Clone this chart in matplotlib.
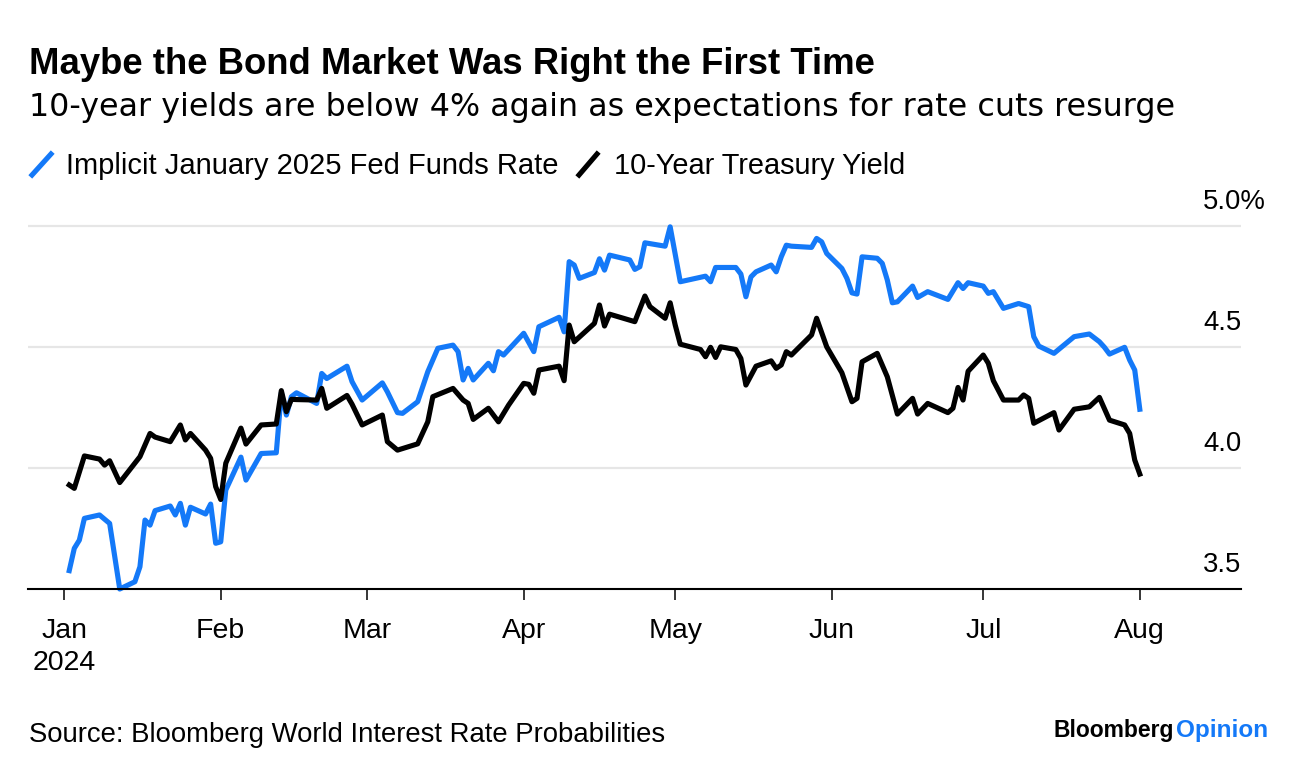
import matplotlib
matplotlib.use("Agg")
import matplotlib.pyplot as plt
import matplotlib.transforms as mtransforms
from matplotlib.lines import Line2D
import pandas as pd

plt.rcParams['font.family'] = ['Liberation Sans', 'DejaVu Sans']

BLUE = '#1479f8'
GRID = '#e6e6e6'

# Implicit January 2025 Fed Funds Rate (%)
fed_dates = [
    "2024-01-02", "2024-01-03", "2024-01-04", "2024-01-05", "2024-01-08", "2024-01-10",
    "2024-01-12", "2024-01-15", "2024-01-16", "2024-01-17", "2024-01-18", "2024-01-19",
    "2024-01-22", "2024-01-23", "2024-01-24", "2024-01-25", "2024-01-26", "2024-01-29",
    "2024-01-30", "2024-01-31", "2024-02-01", "2024-02-02", "2024-02-05", "2024-02-06",
    "2024-02-09", "2024-02-12", "2024-02-13", "2024-02-14", "2024-02-15", "2024-02-16",
    "2024-02-20", "2024-02-21", "2024-02-22", "2024-02-26", "2024-02-27", "2024-02-29",
    "2024-03-04", "2024-03-05", "2024-03-07", "2024-03-08", "2024-03-11", "2024-03-13",
    "2024-03-15", "2024-03-18", "2024-03-19", "2024-03-20", "2024-03-21", "2024-03-22",
    "2024-03-25", "2024-03-26", "2024-03-27", "2024-03-28", "2024-04-01", "2024-04-03",
    "2024-04-04", "2024-04-08", "2024-04-09", "2024-04-10", "2024-04-11", "2024-04-12",
    "2024-04-15", "2024-04-16", "2024-04-17", "2024-04-18", "2024-04-22", "2024-04-23",
    "2024-04-24", "2024-04-25", "2024-04-29", "2024-04-30", "2024-05-02", "2024-05-07",
    "2024-05-08", "2024-05-09", "2024-05-13", "2024-05-14", "2024-05-15", "2024-05-16",
    "2024-05-17", "2024-05-20", "2024-05-21", "2024-05-22", "2024-05-23", "2024-05-24",
    "2024-05-28", "2024-05-29", "2024-05-30", "2024-05-31", "2024-06-03", "2024-06-04",
    "2024-06-05", "2024-06-06", "2024-06-07", "2024-06-10", "2024-06-11", "2024-06-12",
    "2024-06-13", "2024-06-14", "2024-06-17", "2024-06-18", "2024-06-20", "2024-06-24",
    "2024-06-26", "2024-06-27", "2024-06-28", "2024-07-01", "2024-07-02", "2024-07-03",
    "2024-07-05", "2024-07-08", "2024-07-10", "2024-07-11", "2024-07-12", "2024-07-15",
    "2024-07-19", "2024-07-22", "2024-07-24", "2024-07-25", "2024-07-26", "2024-07-29",
    "2024-07-30", "2024-07-31", "2024-08-01",
]
fed_values = [
    3.576, 3.668, 3.702, 3.792, 3.806, 3.771,
    3.500, 3.530, 3.592, 3.785, 3.764, 3.824,
    3.843, 3.806, 3.854, 3.764, 3.838, 3.810,
    3.851, 3.689, 3.695, 3.909, 4.045, 3.950,
    4.060, 4.063, 4.311, 4.219, 4.295, 4.311,
    4.267, 4.391, 4.370, 4.421, 4.357, 4.281,
    4.352, 4.315, 4.229, 4.226, 4.274, 4.398,
    4.495, 4.508, 4.481, 4.364, 4.412, 4.364,
    4.433, 4.402, 4.481, 4.467, 4.557, 4.481,
    4.584, 4.623, 4.563, 4.853, 4.839, 4.784,
    4.808, 4.865, 4.818, 4.880, 4.860, 4.821,
    4.832, 4.931, 4.917, 4.997, 4.770, 4.793,
    4.770, 4.829, 4.829, 4.802, 4.708, 4.790,
    4.811, 4.839, 4.811, 4.873, 4.921, 4.917,
    4.912, 4.949, 4.935, 4.887, 4.825, 4.784,
    4.724, 4.719, 4.873, 4.867, 4.846, 4.777,
    4.683, 4.687, 4.752, 4.705, 4.729, 4.697,
    4.766, 4.742, 4.766, 4.752, 4.722, 4.729,
    4.660, 4.680, 4.667, 4.543, 4.504, 4.474,
    4.543, 4.554, 4.522, 4.499, 4.471, 4.499,
    4.446, 4.405, 4.243,
]

# 10-Year Treasury Yield (%)
tsy_dates = [
    "2024-01-02", "2024-01-03", "2024-01-05", "2024-01-08", "2024-01-09", "2024-01-10",
    "2024-01-12", "2024-01-16", "2024-01-18", "2024-01-19", "2024-01-22", "2024-01-24",
    "2024-01-25", "2024-01-26", "2024-01-29", "2024-01-30", "2024-01-31", "2024-02-01",
    "2024-02-02", "2024-02-05", "2024-02-06", "2024-02-09", "2024-02-12", "2024-02-13",
    "2024-02-14", "2024-02-15", "2024-02-16", "2024-02-20", "2024-02-21", "2024-02-22",
    "2024-02-26", "2024-02-27", "2024-02-29", "2024-03-04", "2024-03-05", "2024-03-07",
    "2024-03-11", "2024-03-13", "2024-03-14", "2024-03-18", "2024-03-20", "2024-03-21",
    "2024-03-22", "2024-03-25", "2024-03-27", "2024-03-29", "2024-04-01", "2024-04-02",
    "2024-04-03", "2024-04-04", "2024-04-08", "2024-04-09", "2024-04-10", "2024-04-11",
    "2024-04-15", "2024-04-16", "2024-04-17", "2024-04-18", "2024-04-23", "2024-04-25",
    "2024-04-26", "2024-04-29", "2024-04-30", "2024-05-01", "2024-05-02", "2024-05-06",
    "2024-05-07", "2024-05-08", "2024-05-09", "2024-05-10", "2024-05-13", "2024-05-14",
    "2024-05-15", "2024-05-17", "2024-05-20", "2024-05-21", "2024-05-22", "2024-05-23",
    "2024-05-24", "2024-05-28", "2024-05-29", "2024-05-31", "2024-06-03", "2024-06-05",
    "2024-06-06", "2024-06-07", "2024-06-10", "2024-06-12", "2024-06-14", "2024-06-17",
    "2024-06-18", "2024-06-20", "2024-06-24", "2024-06-25", "2024-06-26", "2024-06-27",
    "2024-06-28", "2024-07-01", "2024-07-02", "2024-07-03", "2024-07-05", "2024-07-08",
    "2024-07-09", "2024-07-10", "2024-07-11", "2024-07-15", "2024-07-16", "2024-07-19",
    "2024-07-22", "2024-07-24", "2024-07-26", "2024-07-29", "2024-07-30", "2024-07-31",
    "2024-08-01",
]
tsy_values = [
    3.930, 3.916, 4.050, 4.037, 4.012, 4.030,
    3.940, 4.047, 4.143, 4.128, 4.109, 4.178,
    4.116, 4.143, 4.074, 4.040, 3.923, 3.870,
    4.020, 4.165, 4.099, 4.178, 4.182, 4.320,
    4.233, 4.284, 4.283, 4.281, 4.329, 4.247,
    4.300, 4.264, 4.178, 4.219, 4.109, 4.074,
    4.100, 4.191, 4.295, 4.329, 4.281, 4.267,
    4.201, 4.247, 4.191, 4.260, 4.350, 4.346,
    4.309, 4.405, 4.421, 4.361, 4.591, 4.522,
    4.598, 4.674, 4.587, 4.636, 4.605, 4.711,
    4.667, 4.619, 4.683, 4.591, 4.512, 4.490,
    4.460, 4.499, 4.457, 4.501, 4.490, 4.453,
    4.343, 4.421, 4.443, 4.412, 4.426, 4.481,
    4.467, 4.550, 4.619, 4.501, 4.394, 4.274,
    4.288, 4.439, 4.474, 4.377, 4.223, 4.288,
    4.223, 4.267, 4.229, 4.247, 4.333, 4.281,
    4.400, 4.467, 4.433, 4.361, 4.281, 4.281,
    4.302, 4.288, 4.185, 4.229, 4.157, 4.243,
    4.253, 4.292, 4.198, 4.178, 4.143, 4.033,
    3.975,
]

month_ticks = ["2024-01-01", "2024-02-01", "2024-03-01", "2024-04-01",
               "2024-05-01", "2024-06-01", "2024-07-01", "2024-08-01"]
month_labels = ["Jan\n2024", "Feb", "Mar", "Apr", "May", "Jun", "Jul", "Aug"]
grid_levels = [4.0, 4.5, 5.0]
y_levels = [3.5, 4.0, 4.5, 5.0]
y_labels = ["3.5", "4.0", "4.5", "5.0%"]

W, H = 1296, 774


def fx(px):
    return px / W


def fy(py):
    return 1 - py / H


fig = plt.figure(figsize=(W / 100, H / 100), dpi=100)
ax = fig.add_axes([fx(28), fy(589), fx(1241) - fx(28), fy(214) - fy(589)])

ax.set_xlim(pd.Timestamp("2023-12-24 20:00"), pd.Timestamp("2024-08-21 01:00"))
ax.set_ylim(3.5, 5.05)

for lvl in grid_levels:
    ax.axhline(lvl, color=GRID, lw=1.6, zorder=0)

ax.plot(pd.to_datetime(fed_dates), fed_values, color=BLUE, lw=3.7,
        solid_joinstyle='round', clip_on=False, zorder=3)
ax.plot(pd.to_datetime(tsy_dates), tsy_values, color='black', lw=3.7,
        solid_joinstyle='round', clip_on=False, zorder=4)

for s in ['top', 'left', 'right']:
    ax.spines[s].set_visible(False)
ax.spines['bottom'].set_linewidth(1.5)
ax.spines['bottom'].set_zorder(5)

ax.set_yticks([])
ax.set_xticks(pd.to_datetime(month_ticks))
ax.set_xticklabels(month_labels, fontsize=20.5, linespacing=1.28)
ax.tick_params(axis='x', length=8, width=1.1, pad=13, color='black')

# right-hand value labels sitting above each gridline
trans = mtransforms.blended_transform_factory(ax.transAxes, ax.transData)
for lvl, lab in zip(y_levels, y_labels):
    ax.annotate(lab, xy=((1203 - 28) / (1241 - 28), lvl), xycoords=trans,
                xytext=(0, 12), textcoords='offset points',
                ha='left', va='baseline', fontsize=19.8, color='black',
                annotation_clip=False)

# title block
fig.text(fx(29), fy(74), "Maybe the Bond Market Was Right the First Time",
         fontsize=26.3, fontweight='bold', va='baseline', ha='left')
fig.text(fx(29), fy(116), "10-year yields are below 4% again as expectations for rate cuts resurge",
         fontsize=22.9, va='baseline', ha='left', family=['DejaVu Sans'])

# legend
fig.add_artist(Line2D([fx(32), fx(51)], [fy(175), fy(154)], color=BLUE, lw=3.7,
                      transform=fig.transFigure))
fig.text(fx(66), fy(174), "Implicit January 2025 Fed Funds Rate",
         fontsize=21, va='baseline', ha='left')
fig.add_artist(Line2D([fx(579), fx(597)], [fy(175), fy(154)], color='black', lw=3.7,
                      transform=fig.transFigure))
fig.text(fx(614), fy(174), "10-Year Treasury Yield",
         fontsize=20.8, va='baseline', ha='left')

# footer
fig.text(fx(29), fy(742), "Source: Bloomberg World Interest Rate Probabilities",
         fontsize=19.8, va='baseline', ha='left')
fig.text(fx(1268), fy(737), "Opinion", fontsize=17.5, fontweight='bold',
         color=BLUE, va='baseline', ha='right')
fig.text(fx(1174), fy(737), "Bloomberg", fontsize=16.5, fontweight='bold',
         color='black', va='baseline', ha='right')

fig.savefig("out.png", dpi=100, facecolor='white')
